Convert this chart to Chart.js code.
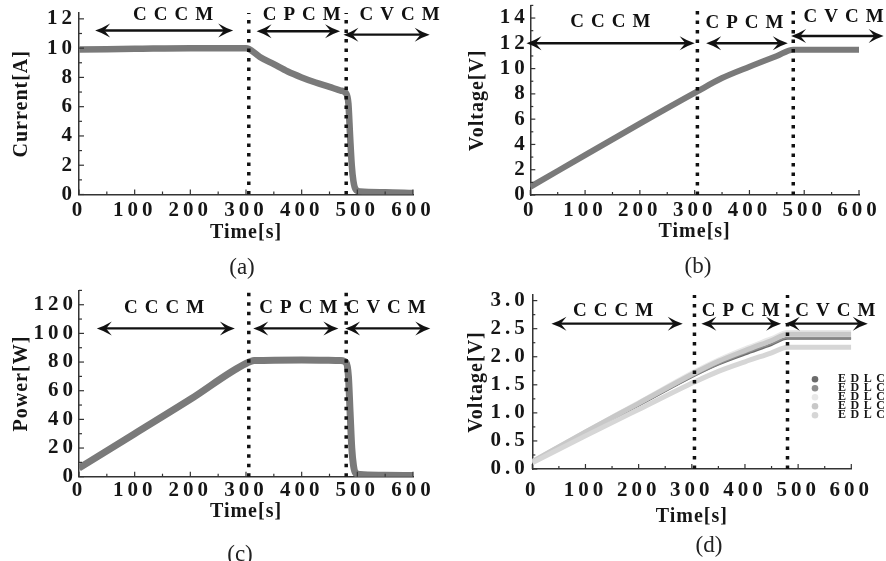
<!DOCTYPE html>
<html>
<head>
<meta charset="utf-8">
<script src="https://cdn.jsdelivr.net/npm/chart.js@4.4.0/dist/chart.umd.min.js"></script>
<style>
  body { margin: 0; background: #fff; }
  #wrap { position: relative; width: 886px; height: 561px; overflow: hidden; }
  canvas { position: absolute; }
  .cap { position: absolute; font-family: 'Liberation Serif', 'Times New Roman', serif; font-size: 23px; color: #222; transform: translate(-50%, -50%); }
</style>
</head>
<body>
<div id="wrap">
  <canvas id="panelA" width="443" height="280" style="left:0;top:0"></canvas>
  <canvas id="panelB" width="443" height="280" style="left:443px;top:0"></canvas>
  <canvas id="panelC" width="443" height="281" style="left:0;top:280px"></canvas>
  <canvas id="panelD" width="443" height="281" style="left:443px;top:280px"></canvas>
  <div class="cap" style="left:242px;top:267px">(a)</div>
  <div class="cap" style="left:698px;top:266px">(b)</div>
  <div class="cap" style="left:240px;top:554px">(c)</div>
  <div class="cap" style="left:709px;top:545px">(d)</div>
</div>
<script>
// charging modes and their boundaries [s]
const modeNames = ['CCCM', 'CPCM', 'CVCM'];
const modeEdges = [305, 480];

// (a) charging current
const timeA = [0, 100, 200, 300, 305, 325, 350, 375, 400, 425, 450, 470, 480, 484, 487, 490, 493, 497, 505, 550, 600];
const currentA = [9.9, 9.95, 10.0, 10.0, 9.95, 9.4, 8.9, 8.4, 8.0, 7.65, 7.35, 7.1, 6.9, 6.2, 4.0, 2.0, 0.9, 0.35, 0.2, 0.15, 0.1];

// (b) module voltage
const timeB = [0, 100, 200, 305, 350, 400, 450, 480, 500, 600];
const voltageB = [0.65, 3.15, 5.65, 8.2, 9.25, 10.15, 11.0, 11.5, 11.5, 11.5];

// (c) charging power
const timeC = [0, 100, 200, 300, 315, 400, 470, 480, 484, 487, 490, 493, 497, 505, 550, 600];
const powerC = [6, 30, 54, 79, 81, 81.5, 81, 79.5, 70, 45, 20, 8, 2.5, 1.5, 1.0, 0.8];

// (d) cell voltages
const timeD = [0, 100, 200, 305, 350, 400, 450, 480, 600];
const edlcLabels = ['EDLC1', 'EDLC2', 'EDLC3', 'EDLC4', 'EDLC5'];
const edlc1 = [0.12, 0.63, 1.13, 1.66, 1.86, 2.04, 2.21, 2.32, 2.32];
const edlc2 = [0.12, 0.64, 1.14, 1.67, 1.87, 2.06, 2.23, 2.34, 2.34];
const edlc3 = [0.14, 0.67, 1.19, 1.74, 1.95, 2.15, 2.33, 2.44, 2.44];
const edlc4 = [0.13, 0.66, 1.17, 1.71, 1.92, 2.11, 2.29, 2.40, 2.40];
const edlc5 = [0.11, 0.59, 1.06, 1.55, 1.74, 1.91, 2.07, 2.17, 2.17];

const serif = "'Liberation Serif', 'Times New Roman', serif";
const ink = '#161616';
const lineGrey = '#7a7a7a';
const edlcColors = ['#6b6b6b', '#8e8e8e', '#e8e8e8', '#c8c8c8', '#d6d6d6'];
const edlcWidths = [2, 2, 4, 5, 5];

const points = (xs, ys) => xs.map((x, i) => ({ x: x, y: ys[i] }));

// canvas has no letter-spacing option in Chart.js, so wrap the scale text calls
function spaceText(scale, fn, spacing) {
  const orig = scale[fn];
  scale[fn] = function (...args) {
    const ctx = this.ctx;
    ctx.save();
    ctx.letterSpacing = spacing;
    orig.apply(this, args);
    ctx.restore();
  };
}

function drawDoubleArrow(ctx, x0, x1, y) {
  const L = 15, W = 7;
  ctx.beginPath();
  ctx.moveTo(x0 + L * 0.6, y);
  ctx.lineTo(x1 - L * 0.6, y);
  ctx.stroke();
  [[x0, 1], [x1, -1]].forEach(([tx, d]) => {
    ctx.beginPath();
    ctx.moveTo(tx, y);
    ctx.quadraticCurveTo(tx + d * L * 0.5, y - W * 0.35, tx + d * L, y - W);
    ctx.lineTo(tx + d * L * 0.62, y);
    ctx.lineTo(tx + d * L, y + W);
    ctx.quadraticCurveTo(tx + d * L * 0.5, y + W * 0.35, tx, y);
    ctx.fill();
  });
}

const textSpacing = {
  id: 'textSpacing',
  beforeDraw(chart) {
    Object.values(chart.scales).forEach(s => {
      if (s._spaced) return;
      s._spaced = true;
      spaceText(s, 'drawLabels', '4px');
      spaceText(s, 'drawTitle', '1px');
    });
  }
};

// small tick marks pointing into the plot
const innerTicks = {
  id: 'innerTicks',
  afterDatasetsDraw(chart) {
    const { ctx, scales: { x, y } } = chart;
    ctx.save();
    ctx.strokeStyle = '#333';
    ctx.lineWidth = 1.2;
    x.ticks.forEach(t => {
      const px = x.getPixelForValue(t.value);
      const len = t.label === '' ? 3 : 5;
      ctx.beginPath(); ctx.moveTo(px, x.top); ctx.lineTo(px, x.top - len); ctx.stroke();
    });
    y.ticks.forEach(t => {
      const py = y.getPixelForValue(t.value);
      const len = t.label === '' ? 3 : 5;
      ctx.beginPath(); ctx.moveTo(y.right, py); ctx.lineTo(y.right + len, py); ctx.stroke();
    });
    ctx.restore();
  }
};

// mode arrows and names, placed in data units
const phases = {
  id: 'phases',
  afterDatasetsDraw(chart, args, opts) {
    if (!opts || !opts.spans) return;
    const { ctx, scales: { x, y } } = chart;
    ctx.save();
    ctx.strokeStyle = '#111';
    ctx.fillStyle = '#111';
    ctx.lineWidth = 2.4;
    opts.spans.forEach((span, i) => {
      drawDoubleArrow(ctx, x.getPixelForValue(span[0]), x.getPixelForValue(span[1]), y.getPixelForValue(opts.arrowY[i]));
    });
    ctx.font = 'bold 19px ' + serif;
    ctx.letterSpacing = '7px';
    ctx.textAlign = 'center';
    ctx.textBaseline = 'middle';
    modeNames.forEach((name, i) => {
      ctx.fillText(name, x.getPixelForValue(opts.labelX[i]) + 3.5, y.getPixelForValue(opts.labelY[i]));
    });
    ctx.restore();
  }
};

const edlcLegend = {
  id: 'edlcLegend',
  afterDraw(chart, args, opts) {
    if (!opts || !opts.show) return;
    const { ctx, chartArea } = chart;
    const mx = chartArea.right - 36.3;
    const my = chartArea.top + 84.3;
    ctx.save();
    ctx.font = 'bold 12px ' + serif;
    ctx.letterSpacing = '4.5px';
    ctx.textBaseline = 'middle';
    chart.data.datasets.filter(d => d.label).forEach((d, i) => {
      const yy = my + i * 9;
      ctx.beginPath();
      ctx.arc(mx, yy, 3.3, 0, Math.PI * 2);
      ctx.fillStyle = d.borderColor;
      ctx.fill();
      ctx.fillStyle = ink;
      ctx.fillText(d.label, mx + 23, yy);
    });
    ctx.restore();
  }
};

function boundaries(top) {
  return modeEdges.map(t => ({
    data: [{ x: t, y: 0 }, { x: t, y: top }],
    borderColor: '#111',
    borderWidth: 3.5,
    borderDash: [3.5, 6],
    pointRadius: 0,
    order: 0
  }));
}

function series(xs, ys, label, color, width, order) {
  return {
    label: label,
    data: points(xs, ys),
    borderColor: color,
    backgroundColor: color,
    borderWidth: width,
    pointRadius: 0,
    cubicInterpolationMode: 'monotone',
    order: order || 1
  };
}

const tickFont = { family: serif, size: 21, weight: 'bold' };
const titleFont = { family: serif, size: 20, weight: 'bold' };

function panel(id, g, datasets, phaseOpts, legend) {
  return new Chart(document.getElementById(id), {
    type: 'line',
    data: { datasets: datasets },
    options: {
      responsive: false,
      animation: false,
      layout: { padding: { left: 0, top: g.top, right: g.right, bottom: g.bottom } },
      plugins: {
        legend: { display: false },
        tooltip: { enabled: false },
        phases: phaseOpts,
        edlcLegend: { show: legend }
      },
      scales: {
        x: {
          type: 'linear', min: 0, max: 600,
          grid: { display: false, drawTicks: false },
          border: { display: true, color: '#333', width: 1.5 },
          ticks: {
            stepSize: 50, autoSkip: false, maxRotation: 0, includeBounds: false,
            padding: g.xTickPad, color: ink, font: tickFont,
            callback: v => (v % 100 === 0 ? v : '')
          },
          title: { display: true, text: 'Time[s]', color: ink, font: titleFont, padding: { top: 0, bottom: g.xTitlePad } },
          afterFit: s => { s.height = 70; s.paddingLeft = 0; s.paddingRight = 0; }
        },
        y: {
          type: 'linear', min: 0, max: g.yMax,
          grid: { display: false, drawTicks: false },
          border: { display: true, color: '#333', width: 1.5 },
          ticks: {
            stepSize: g.yStep, autoSkip: false, includeBounds: false,
            padding: g.yTickPad, color: ink, font: tickFont,
            callback: g.yLabel
          },
          title: { display: true, text: g.yTitle, color: ink, font: titleFont, padding: { top: g.yTitlePad, bottom: 0 } },
          afterFit: s => { s.width = g.left; s.paddingTop = 0; s.paddingBottom = 0; }
        }
      }
    },
    plugins: [textSpacing, innerTicks, phases, edlcLegend]
  });
}

const evenLabel = v => (v % 2 === 0 ? v : '');

panel('panelA',
  { left: 79, top: 13, right: 30, bottom: 15.5, yMax: 12.4, yStep: 1, yLabel: evenLabel, yTitle: 'Current[A]',
    yTickPad: 3, yTitlePad: 10.3, xTickPad: 3.5, xTitlePad: 19.5 },
  [series(timeA, currentA, '', lineGrey, 6.5), ...boundaries(12.4)],
  { spans: [[29, 277], [319, 469], [475, 630]], arrowY: [11.2, 11.15, 10.92],
    labelX: [169, 400, 576], labelY: [12.25, 12.25, 12.25] },
  false);

panel('panelB',
  { left: 87.3, top: 5.4, right: 27, bottom: 15, yMax: 15, yStep: 1, yLabel: evenLabel, yTitle: 'Voltage[V]',
    yTickPad: 1.5, yTitlePad: 22.6, xTickPad: 3.2, xTitlePad: 21.3 },
  [series(timeB, voltageB, '', lineGrey, 6), ...boundaries(15)],
  { spans: [[-7, 300], [321, 470], [476, 645]], arrowY: [12.0, 12.0, 12.58],
    labelX: [146, 391, 572], labelY: [13.71, 13.58, 14.11] },
  false);

panel('panelC',
  { left: 79, top: 10.4, right: 30, bottom: 14.3, yMax: 130, yStep: 10, yLabel: v => (v % 20 === 0 ? v : ''), yTitle: 'Power[W]',
    yTickPad: 2, yTitlePad: 9.6, xTickPad: 1, xTitlePad: 23 },
  [series(timeC, powerC, '', lineGrey, 7), ...boundaries(130)],
  { spans: [[32, 280], [313, 466], [478, 631]], arrowY: [103.5, 103.5, 103.5],
    labelX: [153, 394, 551], labelY: [117.5, 117.5, 117.5] },
  false);

// light cells drawn over the darker ones (higher order is drawn first)
const edlcSeries = [edlc1, edlc2, edlc3, edlc4, edlc5].map((vals, i) =>
  series(timeD, vals, edlcLabels[i], edlcColors[i], edlcWidths[i], 6 - i));

panel('panelD',
  { left: 89.3, top: 15, right: 34.7, bottom: 22, yMax: 3.1, yStep: 0.25,
    yLabel: v => (Math.abs(v * 2 - Math.round(v * 2)) < 1e-6 ? v.toFixed(1) : ''), yTitle: 'Voltage[V]',
    yTickPad: 3.6, yTitlePad: 21.6, xTickPad: 9, xTitlePad: 10.3 },
  [...edlcSeries, ...boundaries(3.1)],
  { spans: [[36, 283], [318, 468], [475, 631]], arrowY: [2.59, 2.59, 2.59],
    labelX: [152, 392, 570], labelY: [2.81, 2.81, 2.81] },
  true);
</script>
</body>
</html>
